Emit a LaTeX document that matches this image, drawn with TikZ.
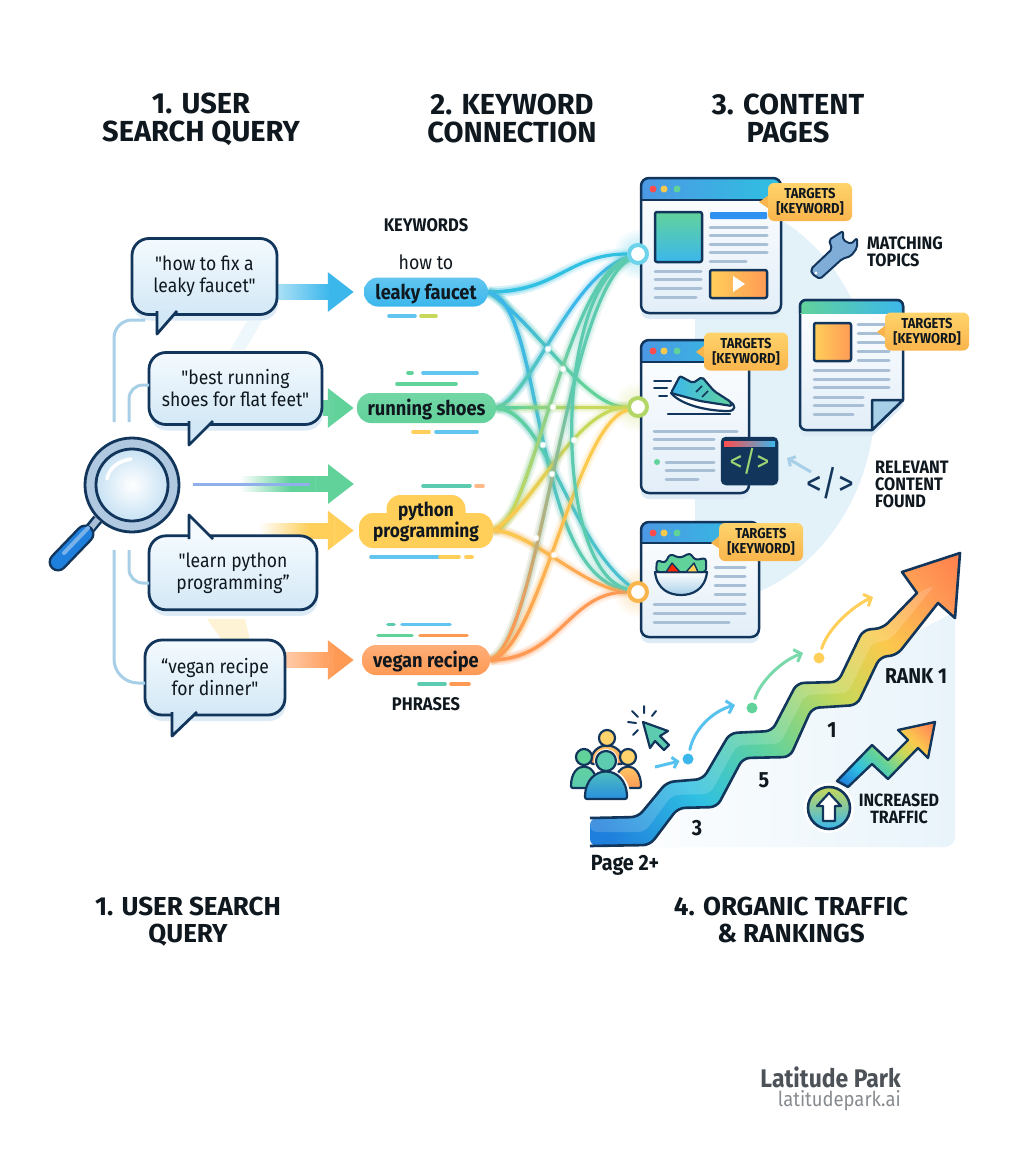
\documentclass[tikz,border=0pt]{standalone}
\usepackage{fontspec}
\setmainfont{Fira Sans}[Ligatures=TeXOff,FakeStretch=0.9]
\newfontfamily\headfont{Fira Sans}[Ligatures=TeXOff]
\usepackage{tikz}
\usetikzlibrary{arrows.meta}
\usetikzlibrary{calc,fadings,shadows}
\definecolor{ink}{HTML}{12355B}
\definecolor{labelink}{HTML}{10181F}
\definecolor{paleblue}{HTML}{E3F1F9}
\definecolor{shadowblue}{HTML}{DCEBF5}
\definecolor{branchblue}{HTML}{A8CFE8}
\definecolor{barblue}{HTML}{A9BFD6}
\definecolor{ringblue}{HTML}{B0C8E0}
\definecolor{lensblue}{HTML}{C8E2F4}
\definecolor{queryhigh}{HTML}{F4FAFE}
\definecolor{querylow}{HTML}{D3E8F6}
\definecolor{pagelow}{HTML}{E2EEF8}
\definecolor{skyblue}{HTML}{3BB7EC}
\definecolor{royalblue}{HTML}{1F7FDC}
\definecolor{cyanblue}{HTML}{2FC0E2}
\definecolor{leafgreen}{HTML}{62D29B}
\definecolor{tealgreen}{HTML}{5CCBB0}
\definecolor{limegreen}{HTML}{C7D85A}
\definecolor{sunyellow}{HTML}{FFCF5A}
\definecolor{amber}{HTML}{FBC94D}
\definecolor{tangerine}{HTML}{FF9A55}
\definecolor{redorange}{HTML}{FF7348}
\definecolor{taghigh}{HTML}{FFD36B}
\definecolor{taglow}{HTML}{F9B54C}
\pgfdeclarelayer{wires}
\pgfsetlayers{wires,main}
\pgfdeclarehorizontalshading{ribbonfill}{100bp}{color(0bp)=(royalblue);color(18bp)=(royalblue);color(32bp)=(cyanblue);color(45bp)=(leafgreen);color(58bp)=(limegreen);color(68bp)=(amber);color(78bp)=(tangerine);color(88bp)=(redorange);color(100bp)=(redorange)}
\newcommand{\targettext}{TARGETS\\{}[KEYWORD]}
\newcommand{\wire}[3]{%
    \begin{pgfonlayer}{wires}
        \foreach \wd/\op in {11/.10,7/.16,3.2/1}{
            \draw[line width=\wd pt,draw opacity=\op,color=#3] #1;
            \draw[line width=\wd pt,draw opacity=\op,color=#2,path fading=east,fit fading=false,fading transform={shift={(545,400)},xscale=1.2,yscale=7}] #1;
        }
    \end{pgfonlayer}
}
\newcommand{\flow}[5]{%
    \begin{pgfonlayer}{wires}
        \draw[flowline,color=#4] #1 -- #2;
        \draw[flowline,color=#3,path fading=east,fit fading=false,fading transform={shift={(#5,400)},xscale=1,yscale=9}] #1 -- #2;
    \end{pgfonlayer}
}
\newcommand{\webpage}[6]{%
    \node[pagebox,minimum width=#4,minimum height=#5] (#1) at (#2,#3) {};
    \begin{scope}
        \clip[rounded corners=8pt] (#1.north west) rectangle (#1.south east);
        \shade[left color=royalblue!80!white,right color=cyanblue] (#1.north west) rectangle ($(#1.north east)+(0,#6)$);
    \end{scope}
    \draw[line width=2.5pt,ink] ($(#1.north west)+(0,#6)$) -- ($(#1.north east)+(0,#6)$);
    \draw[line width=2.5pt,ink,rounded corners=8pt] (#1.north west) rectangle (#1.south east);
    \fill[red!70!white] ($(#1.north west)+(12,11)$) circle (3.5);
    \fill[amber] ($(#1.north west)+(23,11)$) circle (3.5);
    \fill[leafgreen] ($(#1.north west)+(36,11)$) circle (3.5);
}
\newcommand{\person}[8]{%
    \draw[line width=2.2pt,ink,top color=#7,bottom color=#8,rounded corners=2pt] (#1-#6,#5) .. controls (#1-#6,#4) and (#1+#6,#4) .. (#1+#6,#5) -- cycle;
    \draw[line width=2.2pt,ink,fill=#7] (#1,#2) circle (#3);
}
\begin{document}
\begin{tikzpicture}[x=1pt,y=-1pt,line join=round]
    \tikzstyle{heading} = [font=\headfont\bfseries\fontsize{29}{28}\selectfont, align=center, text=labelink, inner sep=0pt];
    \tikzstyle{lowheading} = [font=\headfont\bfseries\fontsize{26}{27}\selectfont, align=center, text=labelink, inner sep=0pt];
    \tikzstyle{caption} = [font=\bfseries\fontsize{18}{17}\selectfont, align=left, anchor=west, text=labelink, inner sep=0pt];
    \tikzstyle{minor} = [font=\bfseries\fontsize{18.3}{17}\selectfont, text=labelink, inner sep=0pt];
    \tikzstyle{query} = [draw=ink, line width=2.8pt, rounded corners=17pt, top color=queryhigh, bottom color=querylow, align=center, inner sep=0pt, font=\fontsize{19.5}{22}\selectfont, text=labelink, execute at begin node=\rule{0pt}{20pt}, drop shadow={shadow xshift=1pt,shadow yshift=-6pt,fill=shadowblue,opacity=1}];
    \tikzstyle{tail} = [draw=ink, line width=2.8pt, fill=querylow];
    \tikzstyle{pill} = [rounded corners=14pt, inner sep=0pt, align=center, font=\bfseries\fontsize{20.3}{21}\selectfont, text=labelink, execute at begin node=\rule{0pt}{20pt}];
    \tikzstyle{dashbar} = [line width=3.6pt, line cap=round];
    \tikzstyle{branch} = [draw=branchblue, line width=3pt, rounded corners=18pt];
    \tikzstyle{flowline} = [line width=16pt, -{Triangle[length=26pt,width=38pt]}];
    \tikzstyle{hub} = [circle, fill=white, line width=4pt, minimum size=18pt, inner sep=0pt];
    \tikzstyle{junction} = [circle, fill=white, draw=white, draw opacity=.55, line width=2pt, minimum size=5pt, inner sep=0pt];
    \tikzstyle{pagebox} = [rounded corners=8pt, top color=white, bottom color=pagelow, inner sep=0pt, outer sep=0pt, drop shadow={shadow xshift=0pt,shadow yshift=-6pt,fill=shadowblue,opacity=1}];
    \tikzstyle{textline} = [draw=barblue, line width=3pt, line cap=round];
    \tikzstyle{tagbox} = [rounded corners=6pt, top color=taghigh, bottom color=taglow, align=center, inner sep=0pt, minimum width=84pt, minimum height=38pt, font=\bfseries\fontsize{14.4}{15}\selectfont, text=labelink];
    \tikzstyle{hop} = [line width=3pt, line cap=round, -{Straight Barb[length=6pt,width=13pt]}];
    \tikzstyle{stepdot} = [circle, minimum size=11pt, inner sep=0pt];
    \tikzstyle{stepnum} = [font=\bfseries\fontsize{22}{22}\selectfont, text=labelink, inner sep=0pt];

    \useasboundingbox (0,0) rectangle (1024,1154);
    \begin{pgfonlayer}{wires}
        \fill[white] (0,0) rectangle (1024,1154);
        \fill[paleblue!60] (230,350) -- (247,321) -- (262,321) -- (245,350) -- cycle;
        \fill[sunyellow!25] (207,619) -- (245,619) -- (250,640) -- (222,640) -- cycle;
    \end{pgfonlayer}

    \fill[paleblue] (695,195) arc[start angle=-90,end angle=90,x radius=180,y radius=205] -- cycle;
    \shade[left color=white,right color=paleblue!80,rounded corners=10pt] (590,847) [sharp corners] -- (660,830) -- (800,710) -- (900,640) -- (955,612) [rounded corners=10pt] -- (955,847) -- cycle;

    \node[heading] (titleQuery) at (201,119) {1. USER\\SEARCH QUERY};
    \node[heading] (titleKeyword) at (512,118) {2. KEYWORD\\CONNECTION};
    \node[heading] (titleContent) at (788,118) {3. CONTENT\\PAGES};
    \node[lowheading] (titleQueryLow) at (188,921.5) {1. USER SEARCH\\QUERY};
    \node[lowheading] (titleOrganic) at (791,920) {4. ORGANIC TRAFFIC\\\& RANKINGS};

    \node[query,minimum width=145pt,minimum height=76pt] (queryA) at (204.5,276.5) {"how to fix a\\leaky faucet"};
    \draw[tail] (157,311) -- (157,334) -- (177,311);
    \node[query,minimum width=173pt,minimum height=72pt] (queryB) at (235.5,388.5) {"best running\\shoes for flat feet"};
    \draw[tail] (189,421) -- (189,445) -- (213,421);
    \node[query,minimum width=168pt,minimum height=74pt] (queryC) at (233,572.8) {"learn python\\programming”};
    \draw[tail,fill=queryhigh] (189,539) -- (189,515) -- (213,539);
    \node[query,minimum width=140pt,minimum height=75pt] (queryD) at (215,677.5) {“vegan recipe\\for dinner"};
    \draw[tail] (172,712) -- (172,736) -- (197,712);

    \node[circle,draw=ink,line width=2.8pt,fill=ringblue,minimum size=94pt,inner sep=0pt] (ring) at (132,485) {};
    \draw[ink,line width=11pt] (ring.225) -- (88,531);
    \draw[barblue,line width=6pt] (ring.225) -- (90,529);
    \draw[ink,line width=19pt,line cap=round] (85,534) -- (58,562);
    \draw[royalblue,line width=14pt,line cap=round] (85,534) -- (58,562);
    \draw[royalblue!60!white,line width=4pt,line cap=round] (88,528) -- (64,553);
    \node[circle,draw=ink,line width=2.8pt,inner color=white,outer color=lensblue,minimum size=72pt,inner sep=0pt] (glass) at (132,485) {};
    \draw[white,line width=3.5pt,line cap=round] (107,479) .. controls (109,468) and (118,461) .. (131,459);

    \coordinate (forkA) at (114,422);
    \coordinate (forkB) at (129,422);
    \coordinate (forkC) at (129,550);
    \coordinate (forkD) at (114,550);
    \coordinate (tailA) at (145,320);
    \coordinate (edgeB) at (149,385);
    \coordinate (edgeC) at (149,583);
    \coordinate (edgeD) at (145,683);
    \draw[branch] (forkA) |- (tailA);
    \draw[branch,rounded corners=14pt] (forkB) |- (edgeB);
    \draw[branch,rounded corners=14pt] (forkC) |- (edgeC);
    \draw[branch,rounded corners=24pt] (forkD) |- (edgeD);

    \node[pill,minimum width=124pt,minimum height=29pt,top color=skyblue!80!white,bottom color=skyblue] (leaky) at (426,292) {leaky faucet};
    \node[pill,minimum width=139pt,minimum height=30pt,top color=leafgreen!90!white,bottom color=leafgreen] (running) at (426.5,408) {running shoes};
    \node[pill,minimum width=79pt,minimum height=32pt,fill=sunyellow] (pythonTop) at (426,511) {};
    \node[pill,minimum width=134pt,minimum height=35pt,fill=sunyellow] (python) at (426,530.5) {};
    \node[pill,font=\bfseries\fontsize{19.2}{21}\selectfont] (pythonText) at (426,521.5) {python\\programming};
    \node[pill,minimum width=128pt,minimum height=30pt,top color=tangerine!80!white,bottom color=tangerine] (vegan) at (426,660) {vegan recipe};

    \node[minor] (keywords) at (426,225.5) {KEYWORDS};
    \node[font=\fontsize{19.7}{22}\selectfont,text=labelink,inner sep=0pt] (howto) at (426,262.5) {how to};
    \node[minor] (phrases) at (426,704) {PHRASES};

    \foreach \a/\b/\c/\col in {389/415/315.7/skyblue!80,421/436/315.7/limegreen,408/412/373/leafgreen,423/477/373/skyblue!80,397/456/384/leafgreen,413/429/432/sunyellow,436/477/432/skyblue!80,423/470/485.8/tealgreen,476/483/485.8/tangerine!70,371/440/557/skyblue!80,440/459/557/sunyellow,466/472/557/sunyellow,388/394/624.4/tealgreen,402/450/624.4/skyblue!80,378/412/635.6/leafgreen,420/467/635.6/tangerine,419/445/684/tealgreen,451/469/684/tangerine}{
        \draw[dashbar,color=\col] (\a,\c) -- (\b,\c);
    }

    \flow{(queryA.east |- leaky.west)}{($(leaky.west)+(-10,0)$)}{skyblue!45!white}{skyblue}{305}
    \flow{(queryB.east |- running.west)}{($(running.west)+(-3,0)$)}{leafgreen!70!white}{leafgreen}{310}
    \coordinate (flowStart) at (217,484);
    \coordinate (flowEnd) at (354,484);
    \flow{(flowStart)}{(flowEnd)}{white}{leafgreen}{265}
    \coordinate (hairStart) at (193,484);
    \coordinate (hairEnd) at (310,484);
    \draw[branchblue!85!blue,line width=3pt] (hairStart) -- (hairEnd);
    \coordinate (flowStartC) at (246,530.5);
    \flow{(flowStartC)}{($(python.west)+(-5,0)$)}{white}{sunyellow}{284}
    \flow{(queryD.center |- vegan.west)}{($(vegan.west)+(-8,0)$)}{tangerine!50!white}{tangerine}{310}

    \webpage{pageA}{711}{245.5}{140}{135}{22}
    \webpage{pageB}{695}{416.5}{108}{153}{22}
    \webpage{pageC}{700}{579.5}{118}{115}{21}

    \shade[draw=ink,line width=2.5pt,rounded corners=2pt,top color=leafgreen,bottom color=skyblue] (655,212) rectangle (702,262);
    \fill[skyblue!80!blue,rounded corners=1pt] (710,212) rectangle (767,219);
    \shade[draw=ink,line width=2.5pt,rounded corners=2pt,left color=sunyellow,right color=tangerine] (710,270) rectangle (767,298);
    \fill[white] (733,276) -- (745,284) -- (733,292) -- cycle;
    \foreach \a/\b/\c in {710/767/227,710/767/235,710/767/244,710/767/252,710/746/261,655/701/271,655/701/279,655/701/288,655/696/297,654/737/431,654/714/439,654/714/448,666/714/462,666/714/470,666/698/479,715/745/567,715/745/576,715/745/585,715/745/594,654/745/604,654/745/613,654/729/622}{
        \draw[textline] (\a,\c) -- (\b,\c);
    }
    \fill[leafgreen] (657,462) circle (3);

    \draw[ink,line width=2pt,line cap=round] (654,380.5) -- (671,380.5) (654,388) -- (667,388) (659,396) -- (667,396);
    \draw[ink,line width=2.2pt,line cap=round] (668,414) -- (730,414);
    \draw[ink,line width=2.2pt,fill=white] (671,393) .. controls (680,404) and (705,411) .. (728,411) .. controls (736,411) and (736,405) .. (730,402) -- (700,398) -- cycle;
    \shade[draw=ink,line width=2.2pt,left color=skyblue,right color=leafgreen,rounded corners=2pt] (671,393) -- (680,376) -- (693,383) -- (702,377) -- (714,391) -- (731,402) -- (732,406) -- (700,401) -- cycle;
    \draw[ink,line width=1.6pt] (702,386) -- (696,392) (708,391) -- (702,397);

    \node[rounded corners=4pt,fill=ink,draw=ink,line width=2.5pt,minimum width=55pt,minimum height=46pt,inner sep=0pt,font=\fontsize{29}{29}\selectfont,text=limegreen!60!leafgreen] (codeWindow) at (749.5,461) {\raisebox{-4pt}{</>}};
    \shade[left color=red!70!white,right color=skyblue] (724,441) rectangle (775,446);

    \draw[ink,line width=2.2pt,top color=white,bottom color=branchblue] (655,572) .. controls (657,590) and (670,595) .. (681,595) .. controls (692,595) and (705,590) .. (707,572) -- cycle;
    \draw[ink,fill=leafgreen,line width=2pt,rounded corners=3pt] (656,572) -- (657,560) -- (665,563) -- (670,554) -- (680,558) -- (690,553) -- (695,560) -- (706,558) -- (706,572) -- cycle;
    \draw[ink,fill=red!70!orange,line width=1.4pt] (666,572) -- (672,563) -- (680,572) -- cycle;
    \draw[ink,fill=sunyellow,line width=1.4pt] (686,572) -- (694,563) -- (698,572) -- cycle;

    \draw[line width=2.5pt,ink,top color=white,bottom color=pagelow,rounded corners=6pt,drop shadow={shadow xshift=0pt,shadow yshift=-6pt,fill=shadowblue,opacity=1}] (800,300) -- (903,300) [sharp corners] -- (903,400) -- (872,430) [rounded corners=6pt] -- (800,430) -- cycle;
    \begin{scope}
        \clip[rounded corners=6pt] (800,300) rectangle (903,330);
        \shade[left color=leafgreen,right color=skyblue] (800,300) rectangle (903,313);
    \end{scope}
    \draw[line width=2.5pt,ink,rounded corners=6pt] (800,313) -- (800,300) -- (903,300) -- (903,313);
    \draw[line width=2.5pt,ink,fill=branchblue] (903,400) -- (872,400) -- (872,430) -- cycle;
    \shade[draw=ink,line width=2.5pt,rounded corners=2pt,left color=sunyellow,right color=tangerine] (814,323) rectangle (851,361);
    \foreach \a/\b/\c in {858/889/324,858/889/333,858/889/342,858/889/351,858/889/360,814/889/370,814/889/379,814/889/387,814/863/397,814/863/405,814/853/414}{
        \draw[textline] (\a,\c) -- (\b,\c);
    }

    \foreach \n/\cx/\cy/\px/\py in {tagA/810/202/759/202,tagB/746/351.5/696/352,tagC/761/542/711/543,tagD/927/331.5/877/332}{
        \fill[taglow] (\cx-38,\cy-9) -- (\px,\py) -- (\cx-38,\cy+9) -- cycle;
        \node[tagbox] (\n) at (\cx,\cy) {\targettext};
    }

    \draw[ink,fill=barblue!70!royalblue,line width=2pt,rounded corners=2pt] (843,231) -- (843,240) -- (851,244) -- (857,238) -- (857,248) -- (851,256) -- (842,259) -- (820,279) -- (812,274) -- (811,269) -- (832,249) -- (829,240) -- cycle;
    \fill[white] (816,273) circle (1.6);
    \node[caption] (matching) at (867,251.5) {MATCHING\\TOPICS};
    \node[caption] (relevant) at (875,484) {RELEVANT\\CONTENT\\FOUND};
    \node[font=\fontsize{35}{35}\selectfont,text=ink,inner sep=0pt] (codeGlyph) at (830,483) {</>};
    \coordinate (codeHint) at (787,458);
    \draw[branchblue,line width=3pt,shorten <=-6pt,-{Straight Barb[length=5pt,width=11pt]}] (codeGlyph) -- (codeHint);

    \shade[shading=ribbonfill,shading angle=38,rounded corners=7pt] (590,818) -- (638,817) -- (667,782) -- (703,779) -- (730,733) -- (772,731) -- (797,683) -- (838,682) -- (863,630) -- (883,628) [sharp corners] -- (917,593) -- (902,572) -- (960,553) -- (955,618) -- (938,603) [rounded corners=7pt] -- (897,655) -- (880,657) -- (857,705) -- (812,708) -- (790,757) -- (743,758) -- (717,807) -- (678,808) -- (650,845) -- (590,846) -- cycle;
    \fill[white,fill opacity=.16,rounded corners=7pt] (590,818) -- (638,817) -- (667,782) -- (703,779) -- (730,733) -- (772,731) -- (797,683) -- (838,682) -- (863,630) -- (883,628) -- (917,593) -- (935,585) -- (890,640) -- (872,643) -- (848,693) -- (805,695) -- (780,744) -- (737,745) -- (710,794) -- (672,795) -- (645,832) -- (590,832) -- cycle;
    \draw[ink,line width=2.6pt,rounded corners=7pt] (590,818) -- (638,817) -- (667,782) -- (703,779) -- (730,733) -- (772,731) -- (797,683) -- (838,682) -- (863,630) -- (883,628) [sharp corners] -- (917,593) -- (902,572) -- (960,553) -- (955,618) -- (938,603) [rounded corners=7pt] -- (897,655) -- (880,657) -- (857,705) -- (812,708) -- (790,757) -- (743,758) -- (717,807) -- (678,808) -- (650,845) -- (590,846);

    \node[stepdot,fill=skyblue] (dotBlue) at (688,759) {};
    \node[stepdot,fill=leafgreen] (dotGreen) at (752,708) {};
    \node[stepdot,fill=sunyellow] (dotYellow) at (819,658) {};
    \coordinate (hopBlue) at (735,705);
    \coordinate (hopGreen) at (803,653);
    \coordinate (hopYellow) at (873,597);
    \coordinate (crowdEdge) at (655,767);
    \draw[hop,skyblue!85!white,shorten <=4pt] (dotBlue) .. controls +(6,-30) and +(-22,6) .. (hopBlue);
    \draw[hop,leafgreen!85!white,shorten <=4pt] (dotGreen) .. controls +(8,-26) and +(-22,8) .. (hopGreen);
    \draw[hop,sunyellow,shorten <=4pt] (dotYellow) .. controls +(8,-28) and +(-22,10) .. (hopYellow);
    \draw[skyblue!85!white,line width=3pt,shorten >=3pt,-{Straight Barb[length=5pt,width=11pt]}] (crowdEdge) -- (dotBlue);

    \person{607}{738}{8}{740}{764}{16}{taghigh}{tangerine}
    \person{584}{757}{8}{760}{788}{13}{leafgreen}{tealgreen}
    \person{628}{757}{8}{760}{788}{13}{taghigh}{tangerine}
    \draw[white,line width=5pt] (587,799) .. controls (587,763) and (628,763) .. (628,799);
    \draw[white,line width=4pt,fill=white] (606,761) circle (10);
    \person{606}{761}{10}{763}{799}{21}{tealgreen}{royalblue!70!skyblue}

    \draw[ink,line width=2.2pt,fill=tealgreen] (643,722) -- (668,731) -- (660,736) -- (669,745) -- (664,750) -- (655,741) -- (650,748) -- cycle;
    \draw[ink,line width=2pt,line cap=round] (644,706) -- (644,713) (632,711) -- (638,717) (656,711) -- (652,716) (628,722) -- (636,723) (633,735) -- (638,730);

    \node[stepnum] (rankThree) at (697,828) {3};
    \node[stepnum] (rankFive) at (764,780) {5};
    \node[stepnum] (rankOne) at (832,730) {1};
    \node[font=\bfseries\fontsize{21.5}{22}\selectfont,text=labelink,inner sep=0pt] (rankTop) at (916,676) {RANK 1};
    \node[font=\bfseries\fontsize{22}{22}\selectfont,text=labelink,inner sep=0pt] (pageTwo) at (625,865) {Page 2+};

    \shade[draw=ink,line width=2.4pt,shading=ribbonfill,shading angle=45] (837,781) -- (872,745) -- (888,760) -- (908,740) -- (898,730) -- (935,722) -- (928,758) -- (918,748) -- (888,779) -- (872,764) -- (848,787) -- cycle;
    \node[circle,fill=white,minimum size=50pt,inner sep=0pt] (upHalo) at (829,808) {};
    \node[circle,draw=ink,line width=2.6pt,minimum size=42pt,inner sep=0pt,top color=limegreen,bottom color=skyblue] (upBadge) at (829,808) {};
    \draw[ink,line width=2.2pt,fill=white] (829,793) -- (841,806) -- (835,806) -- (835,821) -- (823,821) -- (823,806) -- (817,806) -- cycle;
    \node[font=\bfseries\fontsize{17.8}{17}\selectfont,align=center,text=labelink,inner sep=0pt] (traffic) at (899,808.5) {INCREASED\\TRAFFIC};

    \node[hub,draw=cyanblue!70!white] (hubA) at (638,254) {};
    \node[hub,draw=limegreen!80!leafgreen] (hubB) at (638,407) {};
    \node[hub,draw=taglow] (hubC) at (638,592) {};
    \begin{pgfonlayer}{wires}
        \shade[inner color=cyanblue!40!white,outer color=white] (hubA) circle (26);
        \shade[inner color=limegreen!40!white,outer color=white] (hubB) circle (26);
        \shade[inner color=taglow!40!white,outer color=white] (hubC) circle (26);
    \end{pgfonlayer}

    \wire{(leaky.east) .. controls +(70,0) and +(-70,0) .. (hubA)}{cyanblue}{cyanblue}
    \wire{(leaky.east) .. controls +(47,30) and +(-53,1) .. (hubB)}{skyblue}{leafgreen}
    \wire{(leaky.east) .. controls +(57,10) and +(-108,-17) .. (hubC)}{skyblue}{tealgreen}
    \wire{(running.east) .. controls +(34,-10) and +(-68,22) .. (hubA)}{tealgreen}{skyblue}
    \wire{(running.east) .. controls +(40,-1) and +(-40,1) .. (hubB)}{leafgreen}{limegreen}
    \wire{(running.east) .. controls +(49,2) and +(-68,-52) .. (hubC)}{leafgreen}{skyblue!50!tealgreen}
    \wire{(python.east) .. controls +(37,0) and +(-73,26) .. (hubA)}{limegreen}{tealgreen}
    \wire{(python.east) .. controls +(42,-25) and +(-63,1) .. (hubB)}{amber}{limegreen}
    \wire{(python.east) .. controls +(37,0) and +(-53,-2) .. (hubC)}{amber}{tangerine!70!amber}
    \wire{(vegan.east) .. controls +(50,-20) and +(-73,46) .. (hubA)}{tangerine}{tealgreen}
    \wire{(vegan.east) .. controls +(50,-10) and +(-63,18) .. (hubB)}{tangerine}{amber}
    \wire{(vegan.east) .. controls +(70,0) and +(-70,0) .. (hubC)}{tangerine}{tangerine}
    \wire{(hubA) .. controls +(-85,41) and +(-85,-22) .. (hubC)}{tealgreen}{tealgreen}

    \foreach \n/\x/\y in {jA/548/349,jB/563/369,jC/553/407,jD/543/445,jE/552/474,jF/574/440,jG/536/538,jH/554/555}{
        \node[junction] (\n) at (\x,\y) {};
    }

    \node[font=\bfseries\fontsize{25.5}{25}\selectfont,text=labelink!75!white,anchor=east,inner sep=0pt] (brand) at (901,1077) {Latitude Park};
    \node[font=\fontsize{20.5}{22}\selectfont,text=labelink!50!white,anchor=east,inner sep=0pt] (brandUrl) at (901,1101) {latitudepark.ai};
\end{tikzpicture}
\end{document}
